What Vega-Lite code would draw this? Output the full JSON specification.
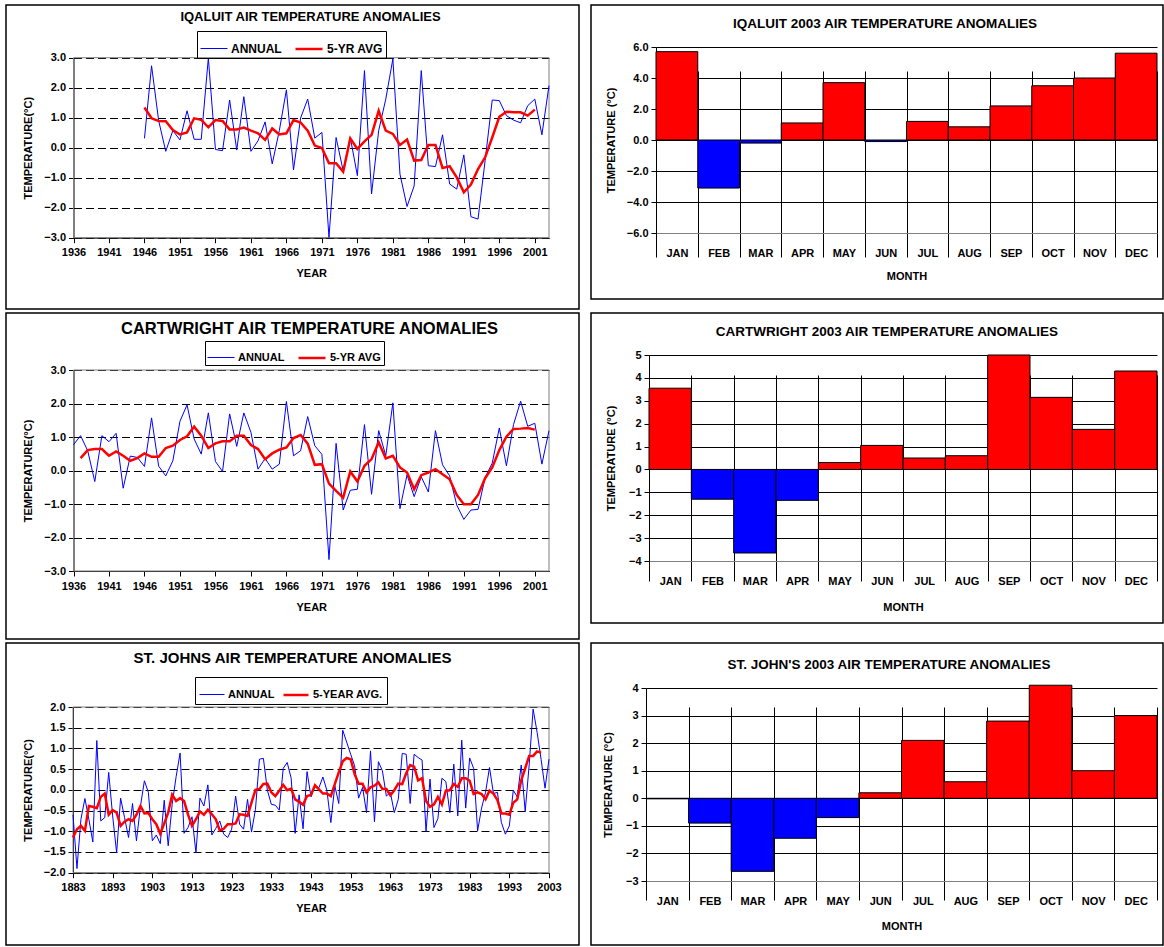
{
"$schema": "https://vega.github.io/schema/vega-lite/v6.json",
"background": "white",
"padding": {"left": 5, "top": 4, "right": 0, "bottom": 0},
"config": {
 "view": {"stroke": "#000", "strokeWidth": 1.5},
 "font": "Liberation Sans",
 "axis": {"labelFont": "Liberation Sans", "labelFontWeight": "bold", "labelFontSize": 11, "labelColor": "#000", "titleFont": "Liberation Sans", "titleFontWeight": "bold", "titleFontSize": 11, "titleColor": "#000", "domainColor": "#000", "tickColor": "#000", "labelFlush": false, "labelBound": false, "labelOverlap": false},
 "legend": {"orient": "none", "direction": "horizontal", "title": null, "strokeColor": "#000", "symbolType": "stroke", "symbolSize": 729, "labelFont": "Liberation Sans", "labelFontWeight": "bold", "labelColor": "#000", "labelOffset": 3, "columnPadding": 8},
 "title": {"font": "Liberation Sans", "fontWeight": "bold", "color": "#000", "anchor": "middle"}
},
"datasets": {
 "iq": [{"yr":1946,"a":0.31,"m":1.34},{"yr":1947,"a":2.73,"m":0.98},{"yr":1948,"a":0.9,"m":0.89},{"yr":1949,"a":-0.12,"m":0.88},{"yr":1950,"a":0.57,"m":0.59},{"yr":1951,"a":0.26,"m":0.44},{"yr":1952,"a":1.23,"m":0.51},{"yr":1953,"a":0.28,"m":0.98},{"yr":1954,"a":0.28,"m":0.93},{"yr":1955,"a":2.99,"m":0.68},{"yr":1956,"a":-0.06,"m":0.92},{"yr":1957,"a":-0.1,"m":0.89},{"yr":1958,"a":1.59,"m":0.61},{"yr":1959,"a":-0.08,"m":0.61},{"yr":1960,"a":1.7,"m":0.67},{"yr":1961,"a":-0.12,"m":0.57},{"yr":1962,"a":0.23,"m":0.48},{"yr":1963,"a":0.86,"m":0.26},{"yr":1964,"a":-0.54,"m":0.64},{"yr":1965,"a":0.57,"m":0.44},{"yr":1966,"a":1.93,"m":0.48},{"yr":1967,"a":-0.74,"m":0.92},{"yr":1968,"a":0.99,"m":0.84},{"yr":1969,"a":1.62,"m":0.57},{"yr":1970,"a":0.32,"m":0.07},{"yr":1971,"a":0.51,"m":-0.01},{"yr":1972,"a":-2.99,"m":-0.52},{"yr":1973,"a":0.34,"m":-0.52},{"yr":1974,"a":-0.77,"m":-0.8},{"yr":1975,"a":0.34,"m":0.31},{"yr":1976,"a":-0.93,"m":-0.04},{"yr":1977,"a":2.57,"m":0.21},{"yr":1978,"a":-1.54,"m":0.43},{"yr":1979,"a":0.57,"m":1.23},{"yr":1980,"a":1.62,"m":0.57},{"yr":1981,"a":2.96,"m":0.46},{"yr":1982,"a":-0.88,"m":0.09},{"yr":1983,"a":-1.96,"m":0.27},{"yr":1984,"a":-1.27,"m":-0.43},{"yr":1985,"a":2.57,"m":-0.41},{"yr":1986,"a":-0.6,"m":0.09},{"yr":1987,"a":-0.63,"m":0.09},{"yr":1988,"a":0.43,"m":-0.68},{"yr":1989,"a":-1.21,"m":-0.62},{"yr":1990,"a":-1.38,"m":-0.99},{"yr":1991,"a":-0.24,"m":-1.49},{"yr":1992,"a":-2.3,"m":-1.23},{"yr":1993,"a":-2.38,"m":-0.71},{"yr":1994,"a":-0.43,"m":-0.32},{"yr":1995,"a":1.59,"m":0.34},{"yr":1996,"a":1.57,"m":1.03},{"yr":1997,"a":1.07,"m":1.2},{"yr":1998,"a":0.92,"m":1.18},{"yr":1999,"a":0.83,"m":1.18},{"yr":2000,"a":1.4,"m":1.07},{"yr":2001,"a":1.62,"m":1.27},{"yr":2002,"a":0.43,"m":null},{"yr":2003,"a":2.07,"m":null}],
 "ca": [{"yr":1936,"a":0.77,"m":null},{"yr":1937,"a":1.04,"m":0.37},{"yr":1938,"a":0.59,"m":0.61},{"yr":1939,"a":-0.33,"m":0.64},{"yr":1940,"a":1.04,"m":0.64},{"yr":1941,"a":0.86,"m":0.44},{"yr":1942,"a":1.11,"m":0.57},{"yr":1943,"a":-0.53,"m":0.44},{"yr":1944,"a":0.43,"m":0.29},{"yr":1945,"a":0.39,"m":0.37},{"yr":1946,"a":0.12,"m":0.51},{"yr":1947,"a":1.57,"m":0.41},{"yr":1948,"a":0.13,"m":0.41},{"yr":1949,"a":-0.16,"m":0.67},{"yr":1950,"a":0.29,"m":0.74},{"yr":1951,"a":1.47,"m":0.91},{"yr":1952,"a":1.96,"m":1.02},{"yr":1953,"a":0.94,"m":1.31},{"yr":1954,"a":0.49,"m":1.04},{"yr":1955,"a":1.72,"m":0.67},{"yr":1956,"a":0.27,"m":0.81},{"yr":1957,"a":-0.03,"m":0.87},{"yr":1958,"a":1.69,"m":0.87},{"yr":1959,"a":0.72,"m":1.04},{"yr":1960,"a":1.72,"m":1.04},{"yr":1961,"a":1.14,"m":0.76},{"yr":1962,"a":0.04,"m":0.64},{"yr":1963,"a":0.36,"m":0.34},{"yr":1964,"a":0.04,"m":0.51},{"yr":1965,"a":0.19,"m":0.62},{"yr":1966,"a":2.06,"m":0.69},{"yr":1967,"a":0.44,"m":0.97},{"yr":1968,"a":0.59,"m":1.06},{"yr":1969,"a":1.61,"m":0.8},{"yr":1970,"a":0.74,"m":0.17},{"yr":1971,"a":0.48,"m":0.19},{"yr":1972,"a":-2.66,"m":-0.39},{"yr":1973,"a":0.81,"m":-0.61},{"yr":1974,"a":-1.18,"m":-0.81},{"yr":1975,"a":-0.59,"m":-0.03},{"yr":1976,"a":-0.56,"m":-0.33},{"yr":1977,"a":1.37,"m":0.14},{"yr":1978,"a":-0.71,"m":0.34},{"yr":1979,"a":1.19,"m":0.84},{"yr":1980,"a":0.44,"m":0.36},{"yr":1981,"a":2.02,"m":0.44},{"yr":1982,"a":-1.14,"m":0.09},{"yr":1983,"a":-0.13,"m":-0.06},{"yr":1984,"a":-0.78,"m":-0.56},{"yr":1985,"a":-0.19,"m":-0.14},{"yr":1986,"a":-0.64,"m":-0.06},{"yr":1987,"a":1.19,"m":0.04},{"yr":1988,"a":0.17,"m":-0.11},{"yr":1989,"a":-0.16,"m":-0.26},{"yr":1990,"a":-1.03,"m":-0.73},{"yr":1991,"a":-1.46,"m":-1.01},{"yr":1992,"a":-1.18,"m":-1.01},{"yr":1993,"a":-1.16,"m":-0.73},{"yr":1994,"a":-0.21,"m":-0.23},{"yr":1995,"a":0.22,"m":0.09},{"yr":1996,"a":1.27,"m":0.61},{"yr":1997,"a":0.14,"m":1.01},{"yr":1998,"a":1.37,"m":1.24},{"yr":1999,"a":2.07,"m":1.25},{"yr":2000,"a":1.32,"m":1.27},{"yr":2001,"a":1.41,"m":1.22},{"yr":2002,"a":0.19,"m":null},{"yr":2003,"a":1.19,"m":null}],
 "sj": [{"yr":1883,"a":-0.6,"m":-1.15},{"yr":1884,"a":-1.9,"m":-0.95},{"yr":1885,"a":-0.71,"m":-0.87},{"yr":1886,"a":-0.21,"m":-0.99},{"yr":1887,"a":-0.71,"m":-0.39},{"yr":1888,"a":-1.26,"m":-0.41},{"yr":1889,"a":1.19,"m":-0.44},{"yr":1890,"a":-0.75,"m":-0.17},{"yr":1891,"a":-0.67,"m":-0.09},{"yr":1892,"a":0.42,"m":-0.6},{"yr":1893,"a":-0.63,"m":-0.49},{"yr":1894,"a":-1.52,"m":-0.55},{"yr":1895,"a":-0.2,"m":-0.87},{"yr":1896,"a":-0.67,"m":-0.77},{"yr":1897,"a":-1.15,"m":-0.71},{"yr":1898,"a":-0.33,"m":-0.75},{"yr":1899,"a":-1.23,"m":-0.6},{"yr":1900,"a":-0.4,"m":-0.39},{"yr":1901,"a":0.22,"m":-0.57},{"yr":1902,"a":-0.06,"m":-0.56},{"yr":1903,"a":-1.23,"m":-0.71},{"yr":1904,"a":-1.09,"m":-0.83},{"yr":1905,"a":-1.3,"m":-1.06},{"yr":1906,"a":-0.25,"m":-0.81},{"yr":1907,"a":-1.35,"m":-0.55},{"yr":1908,"a":-0.35,"m":-0.12},{"yr":1909,"a":0.32,"m":-0.27},{"yr":1910,"a":0.89,"m":-0.2},{"yr":1911,"a":-1.05,"m":-0.27},{"yr":1912,"a":-0.91,"m":-0.6},{"yr":1913,"a":-0.65,"m":-0.87},{"yr":1914,"a":-1.52,"m":-0.71},{"yr":1915,"a":-0.2,"m":-0.52},{"yr":1916,"a":-0.39,"m":-0.6},{"yr":1917,"a":0.12,"m":-0.48},{"yr":1918,"a":-1.09,"m":-0.59},{"yr":1919,"a":-0.93,"m":-0.71},{"yr":1920,"a":-0.75,"m":-0.98},{"yr":1921,"a":-1.07,"m":-0.94},{"yr":1922,"a":-1.15,"m":-0.83},{"yr":1923,"a":-0.95,"m":-0.83},{"yr":1924,"a":-0.15,"m":-0.81},{"yr":1925,"a":-0.83,"m":-0.59},{"yr":1926,"a":-0.95,"m":-0.6},{"yr":1927,"a":-0.23,"m":-0.63},{"yr":1928,"a":-1.02,"m":-0.31},{"yr":1929,"a":-0.47,"m":0.0},{"yr":1930,"a":0.74,"m":0.02},{"yr":1931,"a":0.76,"m":0.14},{"yr":1932,"a":-0.01,"m":0.15},{"yr":1933,"a":-0.35,"m":-0.06},{"yr":1934,"a":-0.37,"m":-0.15},{"yr":1935,"a":-0.49,"m":-0.02},{"yr":1936,"a":0.52,"m":0.12},{"yr":1937,"a":0.66,"m":-0.01},{"yr":1938,"a":0.28,"m":0.03},{"yr":1939,"a":-1.05,"m":-0.23},{"yr":1940,"a":-0.12,"m":-0.29},{"yr":1941,"a":-0.94,"m":-0.36},{"yr":1942,"a":0.44,"m":-0.15},{"yr":1943,"a":-0.17,"m":-0.12},{"yr":1944,"a":0.1,"m":0.11},{"yr":1945,"a":0.05,"m":0.01},{"yr":1946,"a":0.31,"m":-0.09},{"yr":1947,"a":-0.01,"m":-0.09},{"yr":1948,"a":-0.79,"m":-0.15},{"yr":1949,"a":0.1,"m":0.14},{"yr":1950,"a":-0.33,"m":0.42},{"yr":1951,"a":1.44,"m":0.69},{"yr":1952,"a":1.15,"m":0.77},{"yr":1953,"a":0.86,"m":0.74},{"yr":1954,"a":0.58,"m":0.38},{"yr":1955,"a":-0.2,"m":0.15},{"yr":1956,"a":0.06,"m":0.15},{"yr":1957,"a":-0.55,"m":-0.06},{"yr":1958,"a":0.94,"m":0.06},{"yr":1959,"a":-0.77,"m":0.1},{"yr":1960,"a":0.68,"m":0.18},{"yr":1961,"a":0.46,"m":0.02},{"yr":1962,"a":-0.15,"m":0.02},{"yr":1963,"a":-0.06,"m":-0.13},{"yr":1964,"a":-0.55,"m":-0.01},{"yr":1965,"a":-0.23,"m":0.15},{"yr":1966,"a":0.88,"m":0.14},{"yr":1967,"a":0.86,"m":0.4},{"yr":1968,"a":-0.33,"m":0.6},{"yr":1969,"a":0.86,"m":0.56},{"yr":1970,"a":0.78,"m":0.23},{"yr":1971,"a":0.72,"m":0.28},{"yr":1972,"a":-1.01,"m":-0.27},{"yr":1973,"a":0.26,"m":-0.41},{"yr":1974,"a":-0.91,"m":-0.35},{"yr":1975,"a":-0.69,"m":-0.17},{"yr":1976,"a":0.28,"m":-0.35},{"yr":1977,"a":0.2,"m":-0.02},{"yr":1978,"a":-0.55,"m":-0.01},{"yr":1979,"a":0.62,"m":0.14},{"yr":1980,"a":-0.63,"m":0.07},{"yr":1981,"a":1.2,"m":0.28},{"yr":1982,"a":-0.44,"m":0.28},{"yr":1983,"a":0.77,"m":0.22},{"yr":1984,"a":0.52,"m":-0.1},{"yr":1985,"a":-0.99,"m":-0.06},{"yr":1986,"a":-0.44,"m":-0.1},{"yr":1987,"a":-0.06,"m":-0.23},{"yr":1988,"a":0.54,"m":-0.02},{"yr":1989,"a":-0.09,"m":-0.09},{"yr":1990,"a":-0.06,"m":-0.25},{"yr":1991,"a":-0.79,"m":-0.57},{"yr":1992,"a":-1.07,"m":-0.57},{"yr":1993,"a":-0.87,"m":-0.6},{"yr":1994,"a":-0.01,"m":-0.31},{"yr":1995,"a":-0.17,"m":-0.23},{"yr":1996,"a":0.6,"m":0.23},{"yr":1997,"a":-0.52,"m":0.52},{"yr":1998,"a":0.6,"m":0.82},{"yr":1999,"a":1.95,"m":0.82},{"yr":2000,"a":1.39,"m":0.93},{"yr":2001,"a":0.74,"m":0.9},{"yr":2002,"a":0.04,"m":null},{"yr":2003,"a":0.74,"m":null}]
},
"hconcat": [
 {"vconcat": [
  {"width": 573, "height": 304,
   "title": {"text": "IQALUIT AIR TEMPERATURE ANOMALIES", "fontSize": 13, "offset": -19, "dx": 18},
   "data": {"name": "iq"},
   "layer": [
    {"data": {"values": [{}]}, "mark": {"type": "rect", "fill": "transparent", "stroke": "#808080", "strokeWidth": 1},
     "encoding": {
      "x": {"datum": 1936, "type": "quantitative", "scale": {"domain": [1936, 2003], "range": [67.5, 543], "nice": false, "zero": false},
            "axis": {"title": "YEAR", "values": [1936,1941,1946,1951,1956,1961,1966,1971,1976,1981,1986,1991,1996,2001], "format": "d", "grid": false, "offset": -71.3, "tickSize": 5, "labelPadding": 4, "titlePadding": 10}},
      "x2": {"datum": 2003},
      "y": {"datum": -3, "type": "quantitative", "scale": {"domain": [-3, 3], "range": [232.7, 52.7], "nice": false, "zero": false},
            "axis": {"title": "TEMPERATURE(°C)", "values": [-3,-2,-1,0,1,2,3], "format": ".1f", "grid": true, "gridDash": [8,4], "gridColor": "#000", "offset": -67.5, "tickSize": 5, "labelPadding": 3, "titlePadding": 10}},
      "y2": {"datum": 3}}},
    {"transform": [{"fold": ["a", "m"], "as": ["s", "t"]}],
     "mark": {"type": "line"},
     "encoding": {
      "x": {"field": "yr", "type": "quantitative",
            "axis": {"title": "YEAR", "values": [1936,1941,1946,1951,1956,1961,1966,1971,1976,1981,1986,1991,1996,2001], "format": "d", "grid": false, "offset": -71.3, "tickSize": 5, "labelPadding": 4, "titlePadding": 10}},
      "y": {"field": "t", "type": "quantitative",
            "axis": {"title": "TEMPERATURE(°C)", "values": [-3,-2,-1,0,1,2,3], "format": ".1f", "grid": true, "gridDash": [8,4], "gridColor": "#000", "offset": -67.5, "tickSize": 5, "labelPadding": 3, "titlePadding": 10}},
      "color": {"field": "s", "type": "nominal", "scale": {"domain": ["a", "m"], "range": ["#0000ff", "#ff0000"]},
                "legend": {"legendX": 191, "legendY": 26, "padding": 3, "labelFontSize": 12, "labelExpr": "datum.value == 'a' ? 'ANNUAL' : '5-YR AVG'"}},
      "strokeWidth": {"field": "s", "type": "nominal", "scale": {"domain": ["a", "m"], "range": [1, 2.5]},
                "legend": {"legendX": 191, "legendY": 26, "padding": 3, "labelFontSize": 12, "labelExpr": "datum.value == 'a' ? 'ANNUAL' : '5-YR AVG'"}}
     }}
   ]},
  {"width": 573, "height": 326,
   "title": {"text": "CARTWRIGHT AIR TEMPERATURE ANOMALIES", "fontSize": 16.5, "offset": -24, "dx": 17},
   "data": {"name": "ca"},
   "layer": [
    {"data": {"values": [{}]}, "mark": {"type": "rect", "fill": "transparent", "stroke": "#808080", "strokeWidth": 1},
     "encoding": {
      "x": {"datum": 1936, "type": "quantitative", "scale": {"domain": [1936, 2003], "range": [67.5, 543], "nice": false, "zero": false},
            "axis": {"title": "YEAR", "values": [1936,1941,1946,1951,1956,1961,1966,1971,1976,1981,1986,1991,1996,2001], "format": "d", "grid": false, "offset": -68, "tickSize": 5, "labelPadding": 4, "titlePadding": 10}},
      "x2": {"datum": 2003},
      "y": {"datum": -3, "type": "quantitative", "scale": {"domain": [-3, 3], "range": [258, 57], "nice": false, "zero": false},
            "axis": {"title": "TEMPERATURE(°C)", "values": [-3,-2,-1,0,1,2,3], "format": ".1f", "grid": true, "gridDash": [8,4], "gridColor": "#000", "offset": -67.5, "tickSize": 5, "labelPadding": 3, "titlePadding": 10}},
      "y2": {"datum": 3}}},
    {"transform": [{"fold": ["a", "m"], "as": ["s", "t"]}],
     "mark": {"type": "line"},
     "encoding": {
      "x": {"field": "yr", "type": "quantitative",
            "axis": {"title": "YEAR", "values": [1936,1941,1946,1951,1956,1961,1966,1971,1976,1981,1986,1991,1996,2001], "format": "d", "grid": false, "offset": -68, "tickSize": 5, "labelPadding": 4, "titlePadding": 10}},
      "y": {"field": "t", "type": "quantitative",
            "axis": {"title": "TEMPERATURE(°C)", "values": [-3,-2,-1,0,1,2,3], "format": ".1f", "grid": true, "gridDash": [8,4], "gridColor": "#000", "offset": -67.5, "tickSize": 5, "labelPadding": 3, "titlePadding": 10}},
      "color": {"field": "s", "type": "nominal", "scale": {"domain": ["a", "m"], "range": ["#0000ff", "#ff0000"]},
                "legend": {"legendX": 199, "legendY": 28, "padding": 2, "labelFontSize": 11, "labelExpr": "datum.value == 'a' ? 'ANNUAL' : '5-YR AVG'"}},
      "strokeWidth": {"field": "s", "type": "nominal", "scale": {"domain": ["a", "m"], "range": [1, 2.5]},
                "legend": {"legendX": 199, "legendY": 28, "padding": 2, "labelFontSize": 11, "labelExpr": "datum.value == 'a' ? 'ANNUAL' : '5-YR AVG'"}}
     }}
   ]},
  {"width": 573, "height": 302,
   "title": {"text": "ST. JOHNS AIR TEMPERATURE ANOMALIES", "fontSize": 15, "offset": -23},
   "data": {"name": "sj"},
   "layer": [
    {"data": {"values": [{}]}, "mark": {"type": "rect", "fill": "transparent", "stroke": "#808080", "strokeWidth": 1},
     "encoding": {
      "x": {"datum": 1883, "type": "quantitative", "scale": {"domain": [1883, 2003], "range": [67, 543], "nice": false, "zero": false},
            "axis": {"title": "YEAR", "values": [1883,1893,1903,1913,1923,1933,1943,1953,1963,1973,1983,1993,2003], "format": "d", "grid": false, "offset": -72.3, "tickSize": 5, "labelPadding": 4, "titlePadding": 10}},
      "x2": {"datum": 2003},
      "y": {"datum": -2, "type": "quantitative", "scale": {"domain": [-2, 2], "range": [229.7, 64], "nice": false, "zero": false},
            "axis": {"title": "TEMPERATURE(°C)", "values": [-2,-1.5,-1,-0.5,0,0.5,1,1.5,2], "format": ".1f", "grid": true, "gridDash": [8,4], "gridColor": "#000", "offset": -67, "tickSize": 5, "labelPadding": 3, "titlePadding": 10}},
      "y2": {"datum": 2}}},
    {"transform": [{"fold": ["a", "m"], "as": ["s", "t"]}],
     "mark": {"type": "line"},
     "encoding": {
      "x": {"field": "yr", "type": "quantitative",
            "axis": {"title": "YEAR", "values": [1883,1893,1903,1913,1923,1933,1943,1953,1963,1973,1983,1993,2003], "format": "d", "grid": false, "offset": -72.3, "tickSize": 5, "labelPadding": 4, "titlePadding": 10}},
      "y": {"field": "t", "type": "quantitative",
            "axis": {"title": "TEMPERATURE(°C)", "values": [-2,-1.5,-1,-0.5,0,0.5,1,1.5,2], "format": ".1f", "grid": true, "gridDash": [8,4], "gridColor": "#000", "offset": -67, "tickSize": 5, "labelPadding": 3, "titlePadding": 10}},
      "color": {"field": "s", "type": "nominal", "scale": {"domain": ["a", "m"], "range": ["#0000ff", "#ff0000"]},
                "legend": {"legendX": 189, "legendY": 34, "padding": 4, "labelFontSize": 11, "columnPadding": 3, "symbolSize": 625, "labelExpr": "datum.value == 'a' ? 'ANNUAL' : '5-YEAR AVG.'"}},
      "strokeWidth": {"field": "s", "type": "nominal", "scale": {"domain": ["a", "m"], "range": [1, 2.5]},
                "legend": {"legendX": 189, "legendY": 34, "padding": 4, "labelFontSize": 11, "columnPadding": 3, "symbolSize": 625, "labelExpr": "datum.value == 'a' ? 'ANNUAL' : '5-YEAR AVG.'"}}
     }}
   ]}
 ], "spacing": 4, "bounds": "flush",
 "resolve": {"scale": {"color": "independent", "strokeWidth": "independent"}, "legend": {"color": "independent", "strokeWidth": "independent"}}},
 {"vconcat": [
  {"width": 572, "height": 294,
   "title": {"text": "IQALUIT 2003 AIR TEMPERATURE ANOMALIES", "fontSize": 13.5, "offset": -25, "dx": 8},
   "data": {"values": [{"month":"JAN","temp":5.7},{"month":"FEB","temp":-3.1},{"month":"MAR","temp":-0.2},{"month":"APR","temp":1.1},{"month":"MAY","temp":3.7},{"month":"JUN","temp":-0.1},{"month":"JUL","temp":1.2},{"month":"AUG","temp":0.85},{"month":"SEP","temp":2.2},{"month":"OCT","temp":3.5},{"month":"NOV","temp":4.0},{"month":"DEC","temp":5.6}]},
   "mark": {"type": "bar", "stroke": "#000", "strokeWidth": 1},
   "encoding": {
    "x": {"field": "month", "type": "nominal", "sort": null, "scale": {"domain": ["JAN","FEB","MAR","APR","MAY","JUN","JUL","AUG","SEP","OCT","NOV","DEC"], "range": [65, 566], "paddingInner": 0, "paddingOuter": 0},
          "axis": {"title": "MONTH", "labelAngle": 0, "tickBand": "extent", "grid": true, "gridColor": "#000", "ticks": false, "domainColor": "#808080", "offset": -66, "labelPadding": 14, "titlePadding": 12}},
    "y": {"field": "temp", "type": "quantitative", "scale": {"domain": [-6, 6], "range": [228, 42], "nice": false},
          "axis": {"title": "TEMPERATURE (°C)", "values": [-6,-4,-2,0,2,4,6], "format": ".1f", "grid": true, "gridColor": "#000", "offset": -65, "tickSize": 5, "labelPadding": 3, "titlePadding": 10}},
    "color": {"condition": {"test": "datum.temp >= 0", "value": "#ff0000"}, "value": "#0000ff"}
   }},
  {"vconcat": [
   {"width": 572, "height": 310,
    "title": {"text": "CARTWRIGHT 2003 AIR TEMPERATURE ANOMALIES", "fontSize": 13.5, "offset": -25, "dx": 10},
    "data": {"values": [{"month":"JAN","temp":3.55},{"month":"FEB","temp":-1.3},{"month":"MAR","temp":-3.65},{"month":"APR","temp":-1.35},{"month":"MAY","temp":0.3},{"month":"JUN","temp":1.05},{"month":"JUL","temp":0.5},{"month":"AUG","temp":0.6},{"month":"SEP","temp":5.0},{"month":"OCT","temp":3.15},{"month":"NOV","temp":1.75},{"month":"DEC","temp":4.3}]},
    "mark": {"type": "bar", "stroke": "#000", "strokeWidth": 1},
    "encoding": {
     "x": {"field": "month", "type": "nominal", "sort": null, "scale": {"domain": ["JAN","FEB","MAR","APR","MAY","JUN","JUL","AUG","SEP","OCT","NOV","DEC"], "range": [58, 566], "paddingInner": 0, "paddingOuter": 0},
           "axis": {"title": "MONTH", "labelAngle": 0, "tickBand": "extent", "grid": true, "gridColor": "#000", "ticks": false, "domainColor": "#808080", "offset": -62, "labelPadding": 14, "titlePadding": 15}},
     "y": {"field": "temp", "type": "quantitative", "scale": {"domain": [-4, 5], "range": [248, 42], "nice": false},
           "axis": {"title": "TEMPERATURE (°C)", "values": [-4,-3,-2,-1,0,1,2,3,4,5], "format": "d", "grid": true, "gridColor": "#000", "offset": -58, "tickSize": 5, "labelPadding": 3, "titlePadding": 12}},
     "color": {"condition": {"test": "datum.temp >= 0", "value": "#ff0000"}, "value": "#0000ff"}
    }},
   {"width": 572, "height": 302,
    "title": {"text": "ST. JOHN'S 2003 AIR TEMPERATURE ANOMALIES", "fontSize": 13.5, "offset": -28, "dx": 12},
    "data": {"values": [{"month":"JAN","temp":-0.02},{"month":"FEB","temp":-0.9},{"month":"MAR","temp":-2.65},{"month":"APR","temp":-1.45},{"month":"MAY","temp":-0.7},{"month":"JUN","temp":0.2},{"month":"JUL","temp":2.1},{"month":"AUG","temp":0.6},{"month":"SEP","temp":2.8},{"month":"OCT","temp":4.1},{"month":"NOV","temp":1.0},{"month":"DEC","temp":3.0}]},
    "mark": {"type": "bar", "stroke": "#000", "strokeWidth": 1},
    "encoding": {
     "x": {"field": "month", "type": "nominal", "sort": null, "scale": {"domain": ["JAN","FEB","MAR","APR","MAY","JUN","JUL","AUG","SEP","OCT","NOV","DEC"], "range": [55, 566], "paddingInner": 0, "paddingOuter": 0},
           "axis": {"title": "MONTH", "labelAngle": 0, "tickBand": "extent", "grid": true, "gridColor": "#000", "ticks": false, "domainColor": "#808080", "offset": -64, "labelPadding": 14, "titlePadding": 14}},
     "y": {"field": "temp", "type": "quantitative", "scale": {"domain": [-3, 4], "range": [238, 45], "nice": false},
           "axis": {"title": "TEMPERATURE (°C)", "values": [-3,-2,-1,0,1,2,3,4], "format": "d", "grid": true, "gridColor": "#000", "offset": -55, "tickSize": 5, "labelPadding": 3, "titlePadding": 12}},
     "color": {"condition": {"test": "datum.temp >= 0", "value": "#ff0000"}, "value": "#0000ff"}
    }}
  ], "spacing": 20, "bounds": "flush"}
 ], "spacing": 14, "bounds": "flush"}
], "spacing": 10
}
